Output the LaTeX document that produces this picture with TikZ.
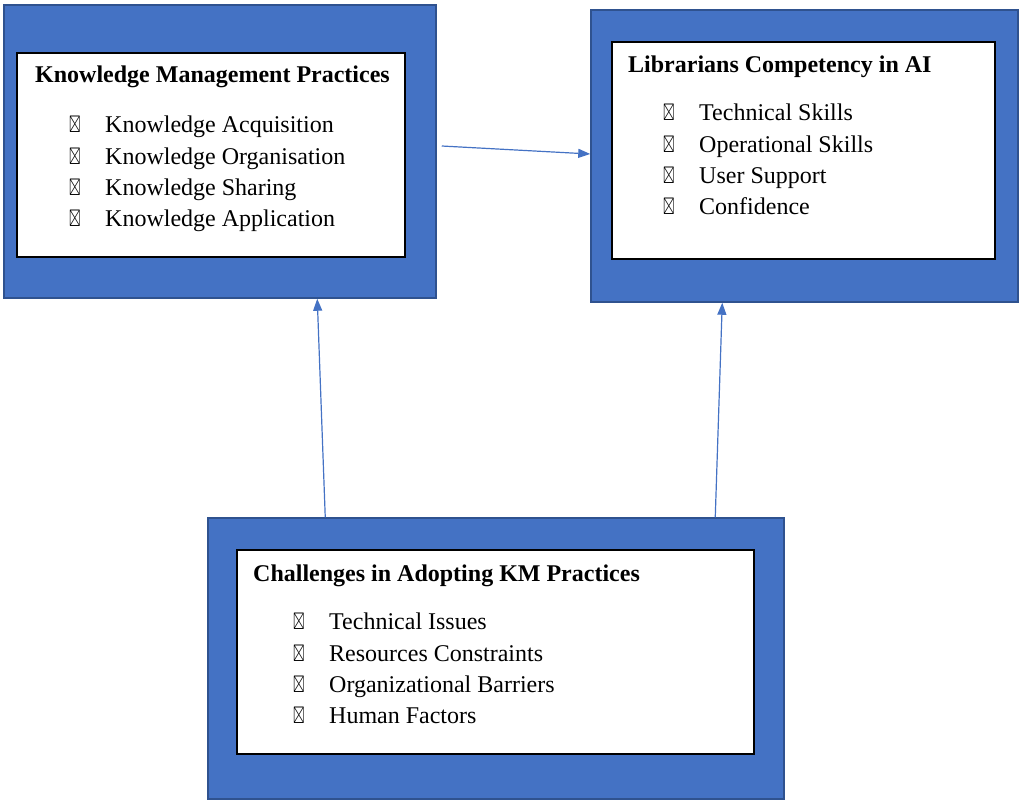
\documentclass[tikz,border=0pt]{standalone}
\usepackage{amssymb}
\usepackage{fontspec}
\setmainfont{Liberation Serif}
\definecolor{boxblue}{RGB}{68, 114, 196}
\definecolor{edgeblue}{RGB}{47, 82, 143}
\usetikzlibrary{arrows.meta, positioning, calc}
\newcommand{\itembox}{\makebox[36pt][l]{\scalebox{0.62}[1]{$\boxtimes$}}}

\begin{document}
\begin{tikzpicture}[x=1pt, y=-1pt,
    outerbox/.style={draw=edgeblue, line width=1.5pt, fill=boxblue, inner sep=0pt},
    innerbox/.style={draw=black, line width=1.5pt, fill=white, inner sep=0pt},
    boxtitle/.style={anchor=base west, inner sep=0pt, font=\fontsize{24}{28}\selectfont\bfseries},
    itemlist/.style={anchor=north west, inner sep=0pt, align=left, font=\fontsize{24}{31.3}\selectfont},
    link/.style={draw=boxblue, line width=1.2pt, -{Triangle[length=12pt, width=9pt]}}]
  \useasboundingbox (0,0) rectangle (1024,804);

  % Outer blue frames
  \node[outerbox, minimum width=432pt, minimum height=293pt] (kmOuter) at (220, 151.5) {};
  \node[outerbox, minimum width=427pt, minimum height=292pt] (lcOuter) at (804.5, 156) {};
  \node[outerbox, minimum width=576pt, minimum height=281pt] (chOuter) at (496, 658.5) {};

  % White panels
  \node[innerbox, minimum width=388pt, minimum height=204pt] (kmInner) at (211, 155) {};
  \node[innerbox, minimum width=383pt, minimum height=217pt] (lcInner) at (803.5, 150.5) {};
  \node[innerbox, minimum width=517pt, minimum height=204pt] (chInner) at (495.5, 652) {};

  % Texts
  \node[boxtitle] (kmTitle) at (35, 82) {Knowledge Management Practices};
  \node[itemlist] (kmItems) at (69, 116) {
    \itembox Knowledge Acquisition\\
    \itembox Knowledge Organisation\\
    \itembox Knowledge Sharing\\
    \itembox Knowledge Application
  };
  \node[boxtitle] (lcTitle) at (628, 72) {Librarians Competency in AI};
  \node[itemlist] (lcItems) at (663, 104) {
    \itembox Technical Skills\\
    \itembox Operational Skills\\
    \itembox User Support\\
    \itembox Confidence
  };
  \node[boxtitle] (chTitle) at (253, 581) {Challenges in Adopting KM Practices};
  \node[itemlist] (chItems) at (293, 613) {
    \itembox Technical Issues\\
    \itembox Resources Constraints\\
    \itembox Organizational Barriers\\
    \itembox Human Factors
  };

  % Connectors
  \coordinate (kmOut) at ($(kmOuter.east)+(5,-5.5)$);
  \draw[link] (kmOut) -- ($(lcOuter.west)+(0,-2)$);
  \draw[link] ($(chOuter.north west)+(118,0)$) -- ($(kmOuter.south west)+(314,0)$);
  \draw[link] ($(chOuter.north west)+(508,0)$) -- ($(lcOuter.south west)+(132,0)$);
\end{tikzpicture}
\end{document}
